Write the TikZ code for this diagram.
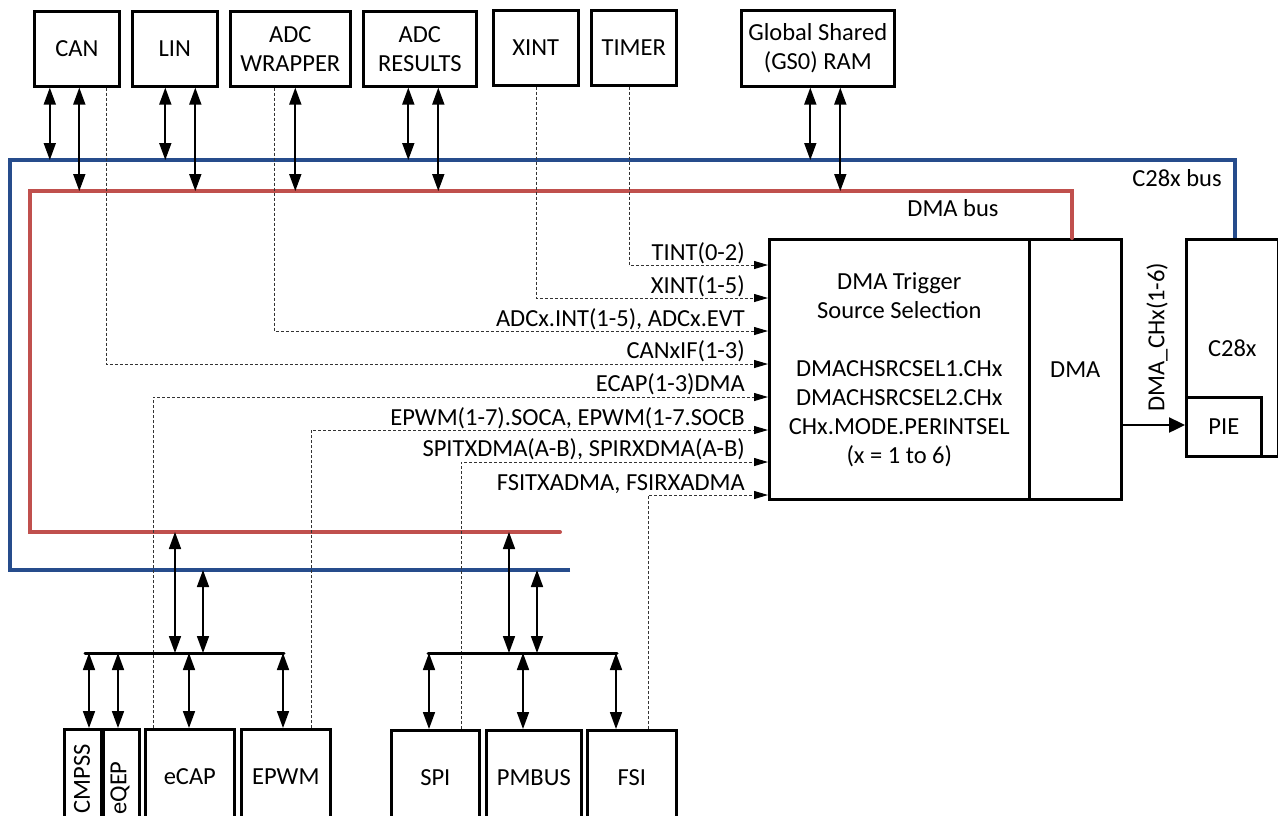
\documentclass[tikz,border=0pt]{standalone}
\usepackage{fontspec}
\setmainfont{Carlito}
\usetikzlibrary{arrows.meta,calc}
\definecolor{busblue}{RGB}{38,76,140}
\definecolor{busred}{RGB}{192,80,77}
\begin{document}
\begin{tikzpicture}[x=1pt,y=-1pt,
  txt/.style={font=\fontsize{24.5}{29}\selectfont},
  box/.style={draw,line width=2.6pt,inner sep=0pt,align=center,anchor=north west,txt},
  bi/.style={line width=1.7pt,{Triangle[length=17pt,width=12pt]}-{Triangle[length=17pt,width=12pt]}},
  trig/.style={black!80,line width=1pt,dash pattern=on 3pt off 2pt,-{Triangle[length=14pt,width=8pt,black]}},
  lab/.style={txt,inner sep=0pt,anchor=base east},
  bluebus/.style={busblue,line width=4pt,line join=miter},
  redbus/.style={busred,line width=4pt,line join=miter},
  bar/.style={line width=3pt,line cap=round}]
\useasboundingbox (0,0) rectangle (1278,815);
\clip (0,0) rectangle (1278,815);

% bus level coordinates
\coordinate (bt) at (0,160);
\coordinate (rt) at (0,191);
\coordinate (rb) at (0,532);
\coordinate (bb) at (0,570);
\coordinate (bar) at (0,653);

% top boxes
\node[box,minimum width=85pt,minimum height=75pt] (can) at (33,10) {CAN};
\node[box,minimum width=85pt,minimum height=75pt] (lin) at (131,10) {LIN};
\node[box,minimum width=120pt,minimum height=75pt] (adcw) at (229,10) {ADC\\WRAPPER};
\node[box,minimum width=113pt,minimum height=75pt] (adcr) at (362,10) {ADC\\RESULTS};
\node[box,minimum width=85pt,minimum height=75pt] (xint) at (492,9) {XINT};
\node[box,minimum width=85pt,minimum height=75pt] (timer) at (590,9) {TIMER};
\node[box,minimum width=153pt,minimum height=76pt] (gs) at (740,9) {Global Shared\\(GS0) RAM};

% main blocks
\node[box,minimum width=260pt,minimum height=260pt] (trg) at (768,238)
  {DMA Trigger\\Source Selection\\[29pt]DMACHSRCSEL1.CHx\\DMACHSRCSEL2.CHx\\CHx.MODE.PERINTSEL\\(x = 1 to 6)};
\node[box,minimum width=92pt,minimum height=260pt] (dma) at (1028,238) {DMA};
\node[box,minimum width=92pt,minimum height=217pt] (cpu) at (1185,238) {C28x};
\node[box,minimum width=75pt,minimum height=59pt] (pie) at (1185,396) {PIE};

% bottom boxes
\node[box,minimum width=37pt,minimum height=95pt] (cmpss) at (63,728) {};
\node[box,minimum width=36pt,minimum height=95pt] (eqep) at (102,728) {};
\node[txt,rotate=90,inner sep=0pt] (cmpsst) at (82,779) {CMPSS};
\node[txt,rotate=90,inner sep=0pt] (eqept) at (120,788) {eQEP};
\node[box,minimum width=89pt,minimum height=95pt] (ecap) at (144,728) {eCAP};
\node[box,minimum width=89pt,minimum height=95pt] (epwm) at (240,728) {EPWM};
\node[box,minimum width=88pt,minimum height=95pt] (spi) at (390,729) {SPI};
\node[box,minimum width=95pt,minimum height=95pt] (pmbus) at (485,729) {PMBUS};
\node[box,minimum width=89pt,minimum height=95pt] (fsi) at (586,729) {FSI};

% buses
\draw[bluebus] (570,570) -- (10,570) -- (10,160) -- (1235,160) -- (cpu.north -| 1235,0);
\draw[redbus,line cap=round] (560,532) -- (30,532) -- (30,191) -- (1072,191) -- (dma.north -| 1072,0);
\node[txt,inner sep=0pt] (c28lab) at (1177,178) {C28x bus};
\node[txt,inner sep=0pt] (dmalab) at (953,208) {DMA bus};

% top bidirectional arrows
\draw[bi] ([xshift=-27pt]can.south) -- ([xshift=-27pt]can.south |- bt);
\draw[bi] ([xshift=2.5pt]can.south) -- ([xshift=2.5pt]can.south |- rt);
\draw[bi] ([xshift=-9.5pt]lin.south) -- ([xshift=-9.5pt]lin.south |- bt);
\draw[bi] ([xshift=20.5pt]lin.south) -- ([xshift=20.5pt]lin.south |- rt);
\draw[bi] ([xshift=5pt]adcw.south) -- ([xshift=5pt]adcw.south |- rt);
\draw[bi] ([xshift=-11.5pt]adcr.south) -- ([xshift=-11.5pt]adcr.south |- bt);
\draw[bi] ([xshift=18.5pt]adcr.south) -- ([xshift=18.5pt]adcr.south |- rt);
\draw[bi] ([xshift=-7.5pt]gs.south) -- ([xshift=-7.5pt]gs.south |- bt);
\draw[bi] ([xshift=22.5pt]gs.south) -- ([xshift=22.5pt]gs.south |- rt);

% trigger lines
\draw[trig] ([xshift=-4.5pt]timer.south) |- (trg.west |- 0,265);
\draw[trig] ([xshift=0.5pt]xint.south) |- (trg.west |- 0,298);
\draw[trig] ([xshift=-16pt]adcw.south) |- (trg.west |- 0,331);
\draw[trig] ([xshift=29.5pt]can.south) |- (trg.west |- 0,364);
\draw[trig] ([xshift=-36.5pt]ecap.north) |- (trg.west |- 0,397);
\draw[trig] ([xshift=25.5pt]epwm.north) |- (trg.west |- 0,430);
\draw[trig] ([xshift=26pt]spi.north) |- (trg.west |- 0,462);
\draw[trig] ([xshift=16.5pt]fsi.north) |- (trg.west |- 0,495);

\node[lab] (l1) at (745,260) {TINT(0-2)};
\node[lab] (l2) at (745,293) {XINT(1-5)};
\node[lab] (l3) at (745,326) {ADCx.INT(1-5), ADCx.EVT};
\node[lab] (l4) at (745,358) {CANxIF(1-3)};
\node[lab] (l5) at (745,391) {ECAP(1-3)DMA};
\node[lab] (l6) at (745,425) {EPWM(1-7).SOCA, EPWM(1-7.SOCB};
\node[lab] (l7) at (745,456) {SPITXDMA(A-B), SPIRXDMA(A-B)};
\node[lab] (l8) at (745,490) {FSITXADMA, FSIRXADMA};

% DMA to PIE
\draw[line width=2.4pt,-{Triangle[length=16pt,width=15pt]}] (dma.east |- 0,425) -- (pie.west |- 0,425);
\node[txt,rotate=90,inner sep=0pt] (chlab) at (1157,337) {DMA\_CHx(1-6)};

% bottom bars
\draw[bar] (85,653) coordinate (lb1) -- (284,653) coordinate (lb2);
\draw[bar] (428,653) coordinate (rb1) -- (617,653) coordinate (rb2);
\draw[bi] (175,532) -- (175,653);
\draw[bi] (203,570) -- (203,653);
\draw[bi] (509,532) -- (509,653);
\draw[bi] (537,570) -- (537,653);
\draw[bi] (cmpss.north -| 89,0) -- (89,653);
\draw[bi] (eqep.north -| 118,0) -- (118,653);
\draw[bi] (ecap.north -| 189,0) -- (189,653);
\draw[bi] (epwm.north -| 283,0) -- (283,653);
\draw[bi] (spi.north -| 429,0) -- (429,653);
\draw[bi] (pmbus.north -| 523,0) -- (523,653);
\draw[bi] (fsi.north -| 616,0) -- (616,653);
\end{tikzpicture}
\end{document}
